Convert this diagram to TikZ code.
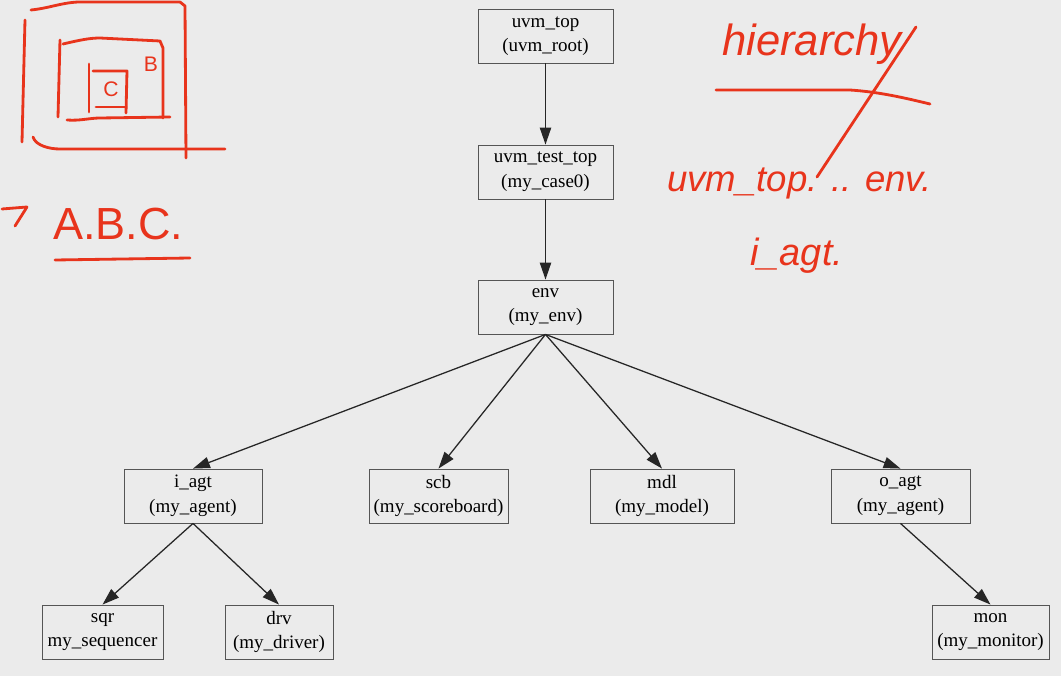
\documentclass[tikz,border=0pt]{standalone}
\usepackage{fontspec}
\setmainfont{Liberation Serif}
\newfontfamily\penfont{Liberation Sans}
\usetikzlibrary{arrows.meta, positioning}
\definecolor{slidebg}{HTML}{EBEBEB}
\definecolor{boxline}{HTML}{555555}
\definecolor{penred}{HTML}{E8341C}
\tikzset{
  % component box of the tree
  comp/.style={draw=boxline, line width=0.6pt, fill=slidebg, minimum height=1.35cm,
    align=center, inner sep=2pt, font=\fontsize{13.5}{17.5}\selectfont},
  % parent -> child edge
  link/.style={-{Triangle[length=12pt,width=8pt]}, line width=0.9pt, black!85},
  % red handwriting
  pen/.style={penred, line width=2pt, line cap=round, line join=round},
  pentext/.style={text=penred, font=\penfont\itshape, inner sep=0pt},
}

\begin{document}
\begin{tikzpicture}[x=0.025cm, y=-0.025cm]
  \fill[slidebg] (0,0) rectangle (1061,676);
  \useasboundingbox (0,0) rectangle (1061,676);

  % tree
  \node[comp, minimum width=3.375cm] (top) at (545.5,36) {uvm\_top\\(uvm\_root)};
  \node[comp, minimum width=3.375cm] (test) at (545.5,172) {uvm\_test\_top\\(my\_case0)};
  \node[comp, minimum width=3.375cm] (env) at (545.5,307) {env\\(my\_env)};
  \node[comp, minimum width=3.45cm] (iagt) at (193,496) {i\_agt\\(my\_agent)};
  \node[comp, minimum width=3.475cm] (scb) at (438.5,496) {scb\\(my\_scoreboard)};
  \node[comp, minimum width=3.6cm] (mdl) at (662,496) {mdl\\(my\_model)};
  \node[comp, minimum width=3.475cm] (oagt) at (900.5,496) {o\_agt\\(my\_agent)};
  \node[comp, minimum width=3.025cm] (sqr) at (102.5,632) {sqr\\my\_sequencer};
  \node[comp, minimum width=2.7cm] (drv) at (279,632) {drv\\(my\_driver)};
  \node[comp, minimum width=2.925cm] (mon) at (990.5,632) {mon\\(my\_monitor)};

  \draw[link] (top.south) -- (test.north);
  \draw[link] (test.south) -- (env.north);
  \foreach \kid in {iagt, scb, mdl, oagt}
    \draw[link] (env.south) -- (\kid.north);
  \draw[link] (iagt.south) -- (sqr.north);
  \draw[link] (iagt.south) -- (drv.north);
  \draw[link] (oagt.south) -- (mon.north);

  % nested boxes, top left
  \draw[pen] (31,10) .. controls (50,8) and (60,3) .. (78,2) -- (180,2) -- (185,6) -- (186,158);
  \draw[pen] (25,20) -- (22,142);
  \draw[pen] (33,137) .. controls (36,146) and (50,149) .. (60,149) -- (225,149);
  \draw[pen] (60,40) -- (58,117);
  \draw[pen] (63,44) .. controls (80,40) and (90,38) .. (100,38) -- (160,41) -- (163,48) -- (163,118);
  \draw[pen] (67,120) .. controls (80,121) and (90,118) .. (100,118) -- (170,117);
  \draw[pen] (89,64) -- (89,112);
  \draw[pen] (93,71) -- (127,71) -- (126,113);
  \draw[pen] (96,107) -- (126,107);
  \node[pentext, font=\penfont\fontsize{15}{15}\selectfont] (letc) at (111,89) {C};
  \node[pentext, font=\penfont\fontsize{15}{15}\selectfont] (letb) at (151,64) {B};

  % path notation
  \draw[pen] (2,209) -- (27,207) -- (15,226);
  \node[pentext, font=\penfont\fontsize{32}{32}\selectfont, anchor=base west] (abc) at (53,240) {A.B.C.};
  \draw[pen] (55,260) -- (190,258);

  % hierarchy notes, top right
  \node[pentext, font=\penfont\itshape\fontsize{31}{31}\selectfont, anchor=base west] (hier) at (722,56) {hierarchy};
  \draw[pen] (716,90) -- (850,90) .. controls (880,92) and (905,98) .. (930,104);
  \draw[pen] (916,27) -- (817,177);
  \node[pentext, font=\penfont\itshape\fontsize{26}{26}\selectfont, anchor=base west] (path) at (667,192) {uvm\_top. .. env.};
  \node[pentext, font=\penfont\itshape\fontsize{27}{27}\selectfont, anchor=base west] (iagtnote) at (750,266) {i\_agt.};
\end{tikzpicture}
\end{document}
